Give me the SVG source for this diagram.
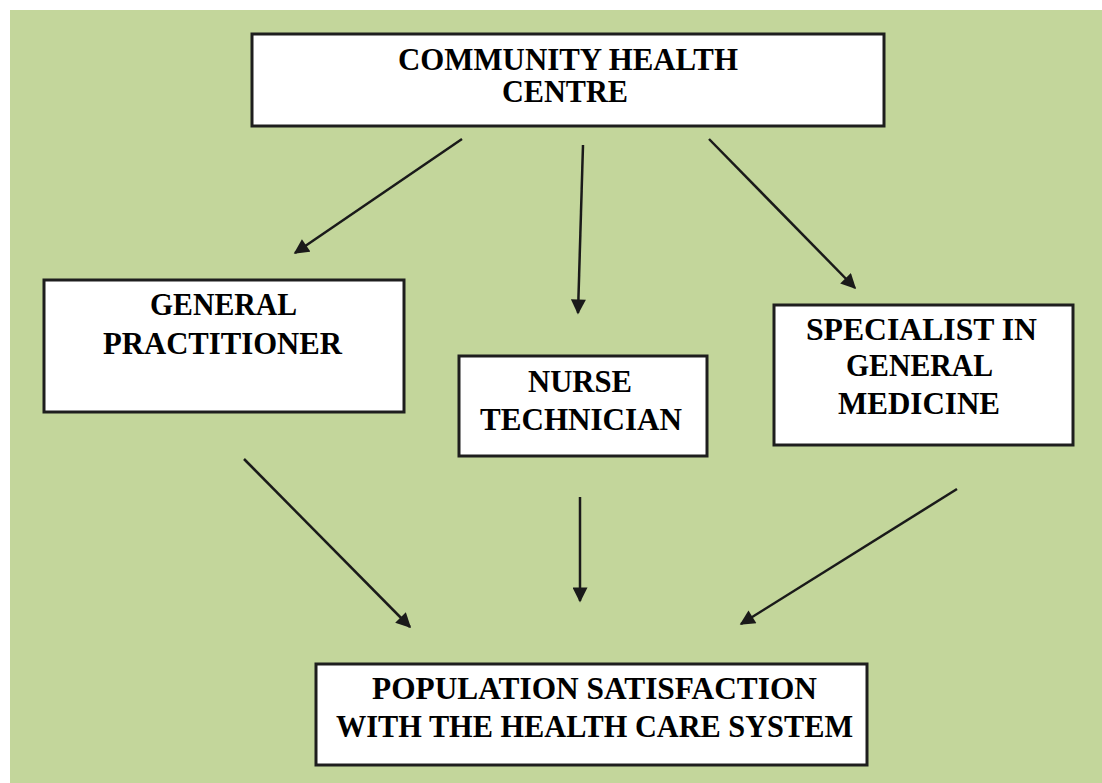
<svg xmlns="http://www.w3.org/2000/svg" width="1102" height="783" viewBox="0 0 1102 783">
<style>
.box{fill:#ffffff;stroke:#1e1e1e;stroke-width:3}
.t{font-family:"Liberation Serif","Times New Roman",serif;font-weight:bold;font-size:31px;fill:#000;text-anchor:start}
.c{fill:none;stroke:#1a1a1a;stroke-width:2.5;marker-end:url(#ah)}
</style>
<defs>
<marker id="ah" viewBox="0 0 10 10" refX="9" refY="5" markerWidth="6.5" markerHeight="6" markerUnits="strokeWidth" orient="auto">
<path d="M0,0 L10,5 L0,10 Z" fill="#1a1a1a"/>
</marker>
</defs>
<rect x="0" y="0" width="1102" height="783" fill="#ffffff"/>
<rect x="10" y="10" width="1092" height="773" fill="#c3d69b"/>
<g id="connectors">
<line class="c" x1="462" y1="139" x2="295" y2="253"/>
<line class="c" x1="583" y1="145" x2="578" y2="313"/>
<line class="c" x1="709" y1="139" x2="855" y2="288"/>
<line class="c" x1="244" y1="459" x2="410" y2="627"/>
<line class="c" x1="580" y1="497" x2="580" y2="601"/>
<line class="c" x1="957" y1="489" x2="741" y2="624"/>
</g>
<g id="community-health-centre">
<rect class="box" x="252" y="34" width="632" height="92"/>
<text class="t" x="398" y="70" textLength="340" lengthAdjust="spacingAndGlyphs">COMMUNITY HEALTH</text>
<text class="t" x="502" y="102" textLength="126" lengthAdjust="spacingAndGlyphs">CENTRE</text>
</g>
<g id="general-practitioner">
<rect class="box" x="44" y="280" width="360" height="132"/>
<text class="t" x="150" y="315" textLength="147" lengthAdjust="spacingAndGlyphs">GENERAL</text>
<text class="t" x="103" y="354" textLength="239" lengthAdjust="spacingAndGlyphs">PRACTITIONER</text>
</g>
<g id="nurse-technician">
<rect class="box" x="459" y="356" width="248" height="100"/>
<text class="t" x="528" y="392" textLength="104" lengthAdjust="spacingAndGlyphs">NURSE</text>
<text class="t" x="480" y="430" textLength="202" lengthAdjust="spacingAndGlyphs">TECHNICIAN</text>
</g>
<g id="specialist-general-medicine">
<rect class="box" x="774" y="305" width="299" height="140"/>
<text class="t" x="806" y="340" textLength="231" lengthAdjust="spacingAndGlyphs">SPECIALIST IN</text>
<text class="t" x="846" y="376" textLength="147" lengthAdjust="spacingAndGlyphs">GENERAL</text>
<text class="t" x="838" y="414" textLength="162" lengthAdjust="spacingAndGlyphs">MEDICINE</text>
</g>
<g id="population-satisfaction">
<rect class="box" x="316" y="664" width="551" height="101"/>
<text class="t" x="372" y="699" textLength="445" lengthAdjust="spacingAndGlyphs">POPULATION SATISFACTION</text>
<text class="t" x="336" y="737" textLength="517" lengthAdjust="spacingAndGlyphs">WITH THE HEALTH CARE SYSTEM</text>
</g>
</svg>
